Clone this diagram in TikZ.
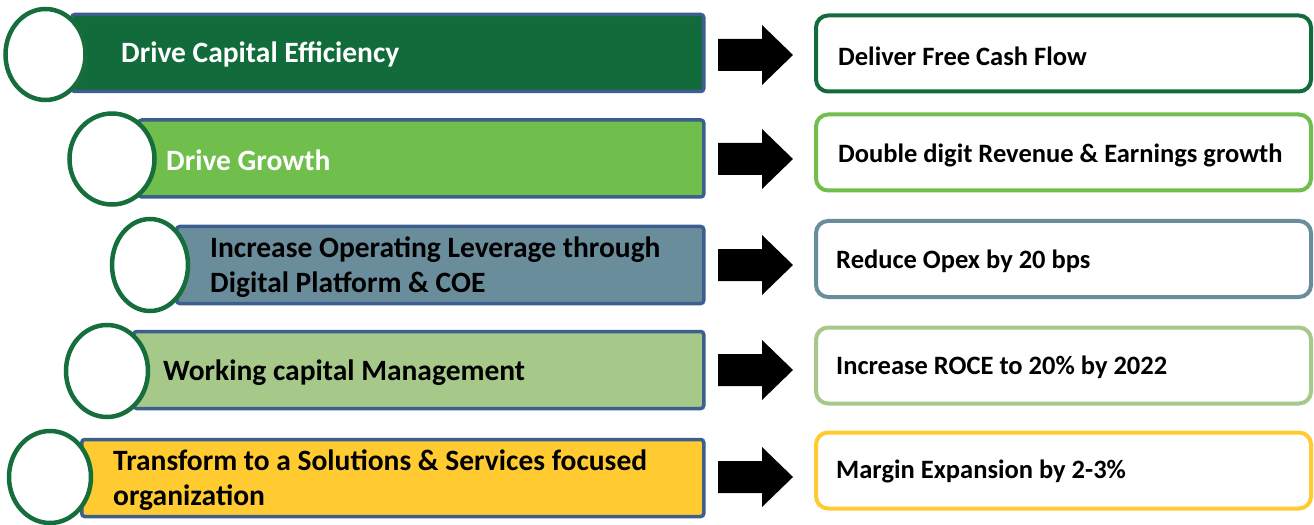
\documentclass[tikz,border=0pt]{standalone}
\usepackage{fontspec}
\setmainfont{Carlito}
\usetikzlibrary{shapes.geometric}
\definecolor{barblue}{RGB}{60,95,143}
\definecolor{circgreen}{RGB}{22,110,60}
\definecolor{cA}{RGB}{17,107,58}
\definecolor{cB}{RGB}{112,191,77}
\definecolor{cC}{RGB}{106,141,155}
\definecolor{cD}{RGB}{166,201,138}
\definecolor{cE}{RGB}{255,203,49}
\begin{document}
\begin{tikzpicture}[x=1bp,y=-1bp,
  bar/.style={draw=barblue,line width=3.5bp,rounded corners=3bp,inner sep=0,minimum height=77bp,anchor=west},
  circ/.style={ellipse,draw=circgreen,line width=4.5bp,fill=white,inner sep=0},
  goal/.style={rounded corners=12bp,line width=4bp,fill=white,inner sep=0,minimum width=495bp,minimum height=76bp,anchor=west},
  lbl/.style={anchor=west,font=\bfseries\fontsize{29.5bp}{35bp}\selectfont,align=left,inner sep=0},
  rlbl/.style={anchor=west,font=\bfseries\fontsize{26.5bp}{30bp}\selectfont,inner sep=0},
  blk/.style={fill=black}]
\useasboundingbox (0,0) rectangle (1314,525);
% bars
\node[bar,fill=cA,minimum width=632bp] (b1) at (70,53) {};
\node[bar,fill=cB,minimum width=565bp] (b2) at (137,158.5) {};
\node[bar,fill=cC,minimum width=527bp] (b3) at (175,265) {};
\node[bar,fill=cD,minimum width=570bp] (b4) at (132,370) {};
\node[bar,fill=cE,minimum width=622bp] (b5) at (80,478) {};
% circles
\node[circ,minimum width=80bp,minimum height=91bp] (c1) at (45.5,54.5) {};
\node[circ,minimum width=85bp,minimum height=91bp] (c2) at (112,159) {};
\node[circ,minimum width=76bp,minimum height=92bp] (c3) at (150,265) {};
\node[circ,minimum width=82bp,minimum height=92bp] (c4) at (107,371) {};
\node[circ,minimum width=82bp,minimum height=92bp] (c5) at (50,477) {};
% bar labels
\node[lbl,text=white] (t1) at (121,54) {Drive Capital Efficiency};
\node[lbl,text=white] (t2) at (166,160) {Drive Growth};
\node[lbl,text=black] (t3) at (210,267) {Increase Operating Leverage through\\Digital Platform \& COE};
\node[lbl,text=black] (t4) at (163,373) {Working capital Management};
\node[lbl,text=black] (t5) at (113,480) {Transform to a Solutions \& Services focused\\organization};
% goal boxes
\node[goal,draw=cA] (g1) at (814,53.5) {};
\node[goal,draw=cB] (g2) at (814,152.5) {};
\node[goal,draw=cC] (g3) at (814,259) {};
\node[goal,draw=cD] (g4) at (814,365.5) {};
\node[goal,draw=cE] (g5) at (814,470.5) {};
\node[rlbl] (r1) at (838,56) {Deliver Free Cash Flow};
\node[rlbl] (r2) at (838,155) {Double digit Revenue \& Earnings growth};
\node[rlbl] (r3) at (836,261) {Reduce Opex by 20 bps};
\node[rlbl] (r4) at (836,367) {Increase ROCE to 20\% by 2022};
\node[rlbl] (r5) at (836,471) {Margin Expansion by 2-3\%};
% block arrows
\foreach \yy/\n in {55/1,159/2,265/3,370/4,477/5}{
  \coordinate (a\n) at (718,\yy);
  \fill[blk] (a\n) ++(0,-16) -- ++(44,0) -- ++(0,-14) -- ++(31,30) -- ++(-31,30) -- ++(0,-14) -- ++(-44,0) -- cycle;
}
\end{tikzpicture}
\end{document}
